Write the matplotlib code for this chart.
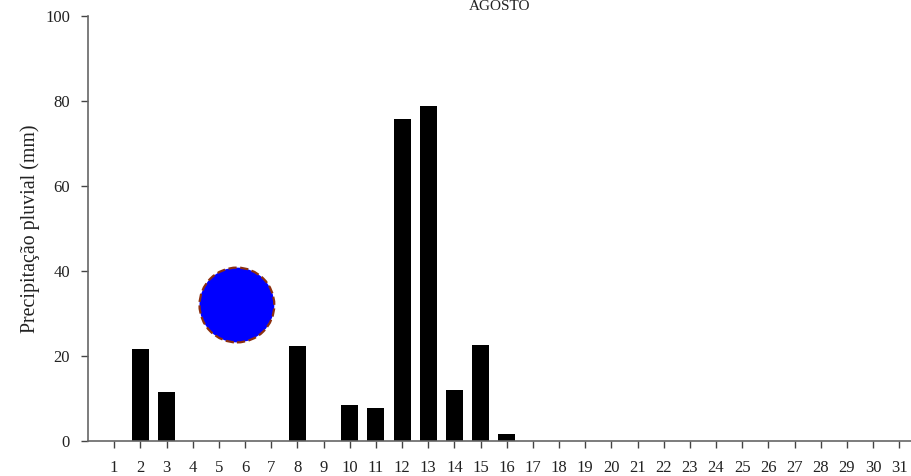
import matplotlib
matplotlib.use("Agg")
import matplotlib.pyplot as plt

plt.rcParams['font.family'] = ['Liberation Serif', 'DejaVu Serif']

days = list(range(1, 32))
rain = [0, 21.6, 11.5, 0, 0, 0, 0, 22.4, 0, 8.5, 7.8, 75.8, 78.8, 12.0, 22.6, 1.6,
        0, 0, 0, 0, 0, 0, 0, 0, 0, 0, 0, 0, 0, 0, 0]
yticks = [0, 20, 40, 60, 80, 100]
title = "AGOSTO"
ylabel = "Precipitação pluvial (mm)"
circle_x = [5.69]
circle_y = [32.0]

fig = plt.figure(figsize=(9.11, 4.76), dpi=100)
ax = fig.add_axes([0.0966, 0.0735, 0.9034, 0.8929])

ax.bar(days, rain, width=0.65, color='black')
ax.scatter(circle_x, circle_y, s=2900, color='#0000ff', edgecolors='#8b2f10',
           linewidths=1.6, linestyles='--', zorder=5)

ax.set_xlim(0.0, 31.45)
ax.set_ylim(0, 100)
ax.set_xticks(days)
ax.set_xticklabels([str(d) for d in days], fontsize=12)
ax.set_yticks(yticks)
ax.set_yticklabels([str(v) for v in yticks], fontsize=12)
ax.set_ylabel(ylabel, fontsize=14.3, color='#222222', labelpad=4)

for s in ['top', 'right']:
    ax.spines[s].set_visible(False)
for s in ['left', 'bottom']:
    ax.spines[s].set_color('#666666')
    ax.spines[s].set_linewidth(1.2)
ax.tick_params(axis='both', direction='out', length=5, color='#444444',
               labelcolor='#222222', width=1)
ax.tick_params(axis='x', pad=9)
ax.tick_params(axis='y', pad=8)

fig.text(0.5487, 0.999, title, ha='center', va='top', fontsize=11, color='#222222')

fig.savefig('out.png', dpi=100)
